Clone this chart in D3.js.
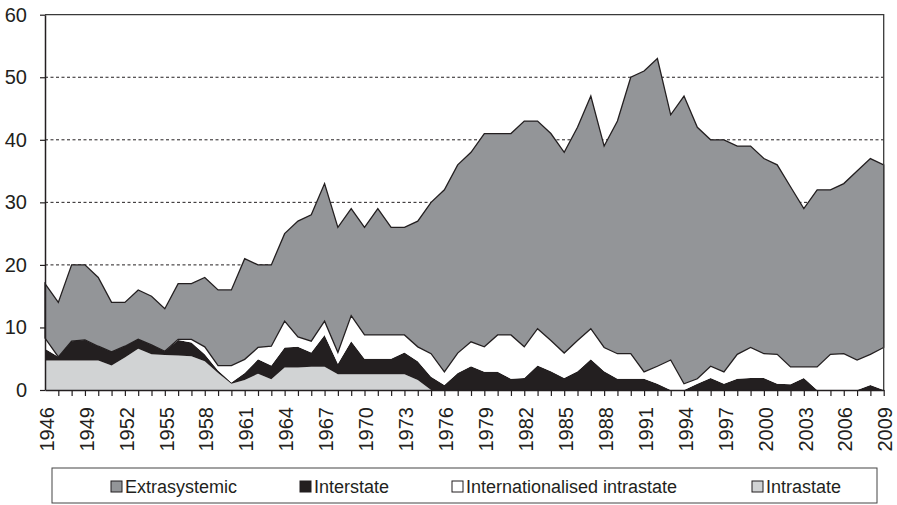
<!DOCTYPE html>
<html>
<head>
<meta charset="utf-8">
<script src="https://cdn.jsdelivr.net/npm/d3@7"></script>
<style>
  html, body { margin: 0; padding: 0; background: #fff; }
  svg { display: block; }
  text { font-family: "Liberation Sans", Arial, Helvetica, sans-serif; fill: #231f20; }
</style>
</head>
<body>
<svg id="chart" width="897" height="505"></svg>
<script>
const years = d3.range(1946, 2010);

const intrastate = [
  4.7, 4.7, 4.7, 4.7, 4.7, 3.9, 5.2, 6.6, 5.7, 5.6,
  5.5, 5.4, 4.6, 2.7, 1.0, 1.6, 2.6, 1.7, 3.6, 3.6,
  3.7, 3.7, 2.5, 2.5, 2.5, 2.5, 2.5, 2.5, 1.6, 0,
  0, 0, 0, 0, 0, 0, 0, 0, 0, 0,
  0, 0, 0, 0, 0, 0, 0, 0, 0, 0,
  0, 0, 0, 0, 0, 0, 0, 0, 0, 0,
  0, 0, 0, 0
];
const interstate = [
  1.9, 0.6, 3.1, 3.3, 2.3, 2.2, 1.8, 1.5, 1.5, 0.6,
  2.5, 2.2, 1.1, 0.4, 0.2, 1.1, 2.3, 2.2, 3.2, 3.3,
  2.3, 5.1, 1.7, 5.3, 2.5, 2.5, 2.5, 3.5, 3.0, 2.1,
  0.8, 2.7, 3.8, 2.9, 2.9, 1.8, 1.9, 3.9, 3.0, 1.9,
  3.0, 4.9, 3.0, 1.8, 1.8, 1.8, 1.0, 0, 0, 1.0,
  1.9, 1.0, 1.8, 1.9, 1.9, 1.0, 0.9, 1.9, 0, 0,
  0, 0, 0.8, 0
];
const internationalised = [
  1.7, 0, 0, 0, 0, 0, 0, 0, 0, 0,
  0.1, 0.5, 1.2, 0.8, 2.7, 2.2, 1.9, 3.1, 4.2, 1.6,
  1.8, 2.2, 1.8, 4.1, 3.8, 3.8, 3.8, 2.8, 2.3, 3.7,
  2.1, 3.2, 3.9, 4.0, 5.9, 7.0, 5.0, 5.9, 4.9, 4.0,
  4.9, 4.9, 3.8, 4.0, 4.0, 1.1, 2.8, 4.8, 1.0, 0.8,
  1.9, 1.9, 3.9, 4.9, 3.9, 4.7, 2.8, 1.8, 3.7, 5.7,
  5.8, 4.8, 4.9, 6.8
];
const extrasystemic = [
  8.7, 8.7, 12.2, 12.0, 11.0, 7.9, 7.0, 7.9, 7.8, 6.8,
  8.9, 8.9, 11.1, 12.1, 12.1, 16.1, 13.2, 13.0, 14.0, 18.5,
  20.2, 22.0, 20.0, 17.1, 17.2, 20.2, 17.2, 17.2, 20.1, 24.2,
  29.1, 30.1, 30.3, 34.1, 32.2, 32.2, 36.1, 33.2, 33.1, 32.1,
  34.1, 37.2, 32.2, 37.2, 44.2, 48.1, 49.2, 39.2, 46.0, 40.2,
  36.2, 37.1, 33.3, 32.2, 31.2, 30.3, 28.8, 25.3, 28.3, 26.3,
  27.2, 30.2, 31.3, 29.2
];

const yTicks = [0, 10, 20, 30, 40, 50, 60];
const xTickLabels = d3.range(1946, 2010, 3);

const seriesKeys = ["intrastate", "interstate", "internationalised", "extrasystemic"];
const seriesColors = {
  intrastate: "#d1d3d4",
  interstate: "#231f20",
  internationalised: "#ffffff",
  extrasystemic: "#939598"
};
const legendItems = [
  { key: "extrasystemic", label: "Extrasystemic" },
  { key: "interstate", label: "Interstate" },
  { key: "internationalised", label: "Internationalised intrastate" },
  { key: "intrastate", label: "Intrastate" }
];

const table = years.map((yr, i) => ({
  year: yr,
  intrastate: intrastate[i],
  interstate: interstate[i],
  internationalised: internationalised[i],
  extrasystemic: extrasystemic[i]
}));

const svg = d3.select("#chart");
const pL = 45, pR = 883.7, pT = 14.7, pB = 390;

const x = d3.scaleLinear().domain([1946, 2009]).range([pL, pR]);
const y = d3.scaleLinear().domain([0, 60]).range([pB, pT]);

// gridlines
svg.append("g").selectAll("line")
  .data(yTicks.filter(t => t > 0 && t < 60))
  .join("line")
  .attr("x1", pL).attr("x2", pR)
  .attr("y1", d => y(d)).attr("y2", d => y(d))
  .attr("stroke", "#231f20")
  .attr("stroke-width", 1)
  .attr("stroke-dasharray", "3,2.5");

// stacked areas
const stacked = d3.stack().keys(seriesKeys)(table);
const area = d3.area()
  .x(d => x(d.data.year))
  .y0(d => y(d[0]))
  .y1(d => y(d[1]));

svg.append("g").selectAll("path")
  .data(stacked)
  .join("path")
  .attr("d", area)
  .attr("fill", d => seriesColors[d.key])
  .attr("stroke", d => d.key === "extrasystemic" ? "#231f20" : "none")
  .attr("stroke-width", d => d.key === "extrasystemic" ? 1.3 : 0)
  .attr("stroke-linejoin", "miter");

// frame (top & right)
svg.append("path")
  .attr("d", `M${pL},${pT}H${pR}V${pB}`)
  .attr("fill", "none")
  .attr("stroke", "#3a3a3a")
  .attr("stroke-width", 1.3);

// y axis
const yAxis = svg.append("g")
  .attr("transform", `translate(${pL},0)`)
  .call(d3.axisLeft(y).tickValues(yTicks).tickSize(5).tickPadding(13).tickSizeOuter(0));
yAxis.select(".domain").attr("stroke", "#231f20").attr("stroke-width", 1.5);
yAxis.selectAll(".tick line").attr("stroke", "#231f20").attr("stroke-width", 1.2);
yAxis.selectAll(".tick text")
  .style("font-size", "20px")
  .style("font-family", "'Liberation Sans', Arial, sans-serif")
  .attr("fill", "#231f20");

// x axis
const xAxis = svg.append("g")
  .attr("transform", `translate(0,${pB})`)
  .call(d3.axisBottom(x).tickValues(years).tickSize(6).tickSizeOuter(0)
    .tickFormat(d => xTickLabels.includes(d) ? String(d) : ""));
xAxis.select(".domain").attr("stroke", "#231f20").attr("stroke-width", 1.5);
xAxis.selectAll(".tick line").attr("stroke", "#231f20").attr("stroke-width", 1.2)
  .filter(d => d === 1946).remove();
xAxis.selectAll(".tick text")
  .style("font-size", "20px")
  .style("font-family", "'Liberation Sans', Arial, sans-serif")
  .attr("fill", "#231f20")
  .attr("text-anchor", "end")
  .attr("transform", "translate(1,17) rotate(-90)")
  .attr("x", 0).attr("y", 0).attr("dy", "0.36em");

// legend
const lg = svg.append("g");
lg.append("rect")
  .attr("x", 52).attr("y", 468).attr("width", 825).attr("height", 35)
  .attr("fill", "#fff").attr("stroke", "#444").attr("stroke-width", 1);
const legendX = [111, 300, 452, 752];
const items = lg.selectAll("g.item").data(legendItems).join("g")
  .attr("class", "item")
  .attr("transform", (d, i) => `translate(${legendX[i]},0)`);
items.append("rect")
  .attr("x", 0).attr("y", 481).attr("width", 11).attr("height", 11)
  .attr("fill", d => seriesColors[d.key])
  .attr("stroke", "#231f20").attr("stroke-width", 1);
items.append("text")
  .attr("x", 14).attr("y", 493)
  .style("font-size", "18px")
  .text(d => d.label);
</script>
</body>
</html>
